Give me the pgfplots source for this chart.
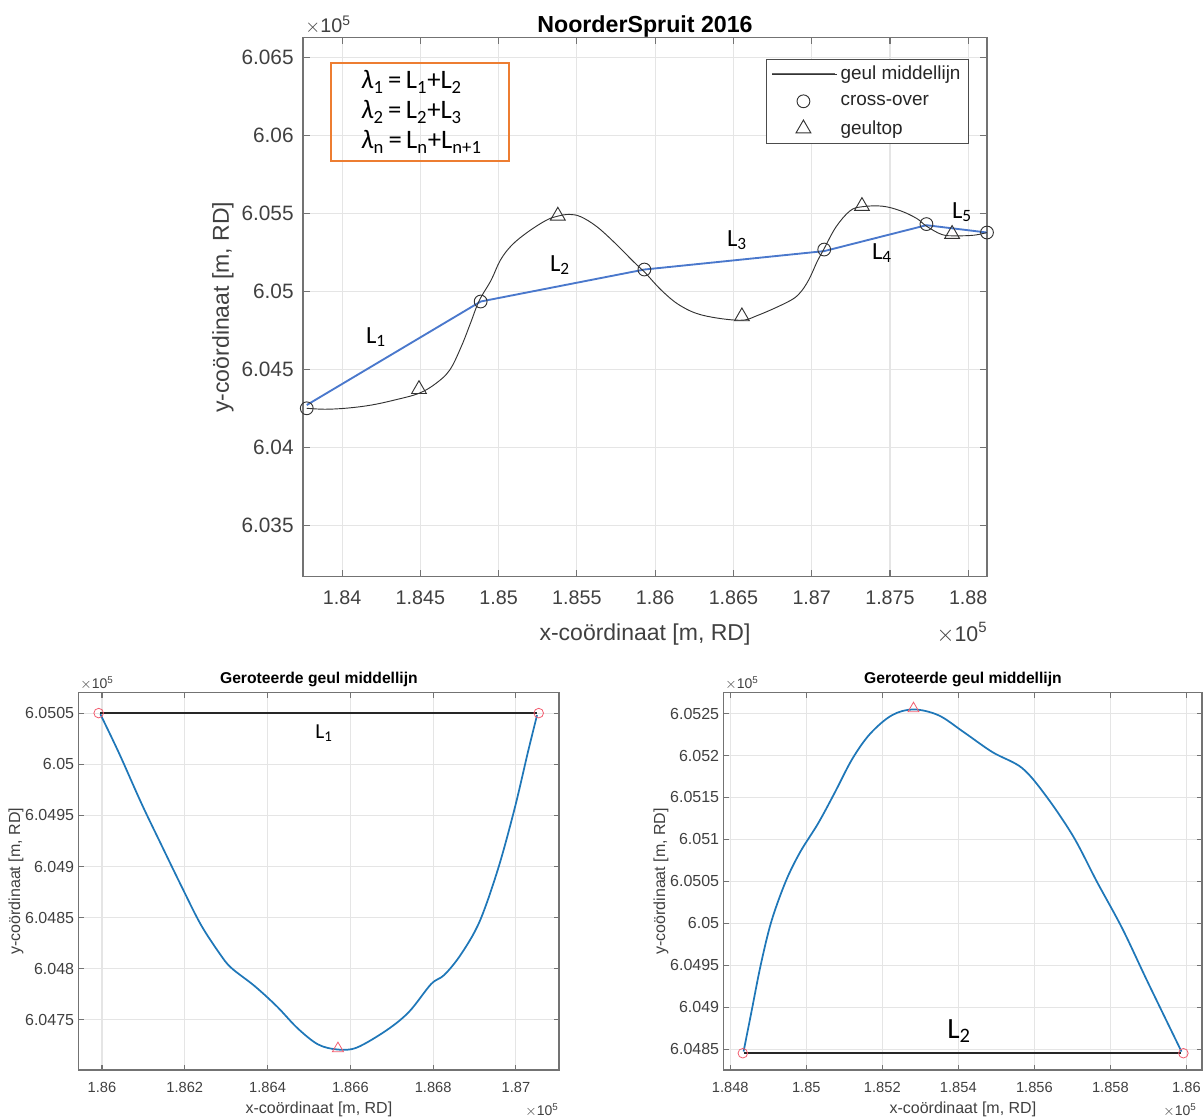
\documentclass[border=0pt]{standalone}
\usepackage{fontspec}
\setmainfont{Liberation Sans}
\newfontfamily\calib{Carlito}
\usepackage{pgfplots}
\pgfplotsset{compat=1.18}
\definecolor{mattext}{gray}{0.25}
\definecolor{matgrid}{gray}{0.9}
\definecolor{mataxis}{gray}{0.45}
\definecolor{matblue}{HTML}{1F77B8}
\definecolor{handblue}{HTML}{4A78CC}
\definecolor{boxorange}{HTML}{ED7D31}
\definecolor{markred}{HTML}{F25C6E}
\pgfplotsset{
  matlab/.style={
    scale only axis, axis on top=false,
    grid=major, grid style={matgrid,line width=0.8pt},
    axis line style={mataxis,line width=0.9pt},
    every tick/.style={mataxis,line width=0.8pt},
    tick align=inside, xtick pos=both, ytick pos=both,
    major tick length=5pt,
    scaled ticks=false, clip=false,
    tick label style={text=mattext,/pgf/number format/fixed,/pgf/number format/precision=4,/pgf/number format/assume math mode=true},
    label style={text=mattext},
  },
  bigax/.style={matlab,
    xticklabel style={font=\fontsize{14.8}{16}\selectfont,yshift=-7pt},
    yticklabel style={font=\fontsize{15.6}{17}\selectfont,xshift=-3.5pt},
    xlabel style={yshift=-7.2pt}, ylabel style={yshift=-1pt},
    label style={font=\fontsize{17.25}{19}\selectfont},
    title style={font=\fontsize{17.4}{19}\selectfont\bfseries,text=black,yshift=-9pt}},
  smallax/.style={matlab, major tick length=4pt,
    xticklabel style={font=\fontsize{11}{13}\selectfont,yshift=-6pt},
    yticklabel style={font=\fontsize{12}{14}\selectfont},
    xlabel style={yshift=0.5pt}, ylabel style={yshift=-5.5pt},
    label style={font=\fontsize{12}{14}\selectfont},
    title style={font=\fontsize{11.75}{13}\selectfont\bfseries,text=black,yshift=-5pt}},
}
\newcommand{\tenfive}[1]{\fontsize{#1}{#1}\selectfont\textcolor{mattext}{$\times$10\textsuperscript{5}}}
\begin{document}
\begin{tikzpicture}[x=0.75pt,y=0.75pt]
\path[use as bounding box] (0,0) rectangle (1203,1117);

% ---- main axis
\begin{axis}[bigax, at={(227.25pt,405.2pt)}, anchor=south west, width=513pt, height=404.25pt,
  xmin=1.8375, xmax=1.8812, ymin=6.03173, ymax=6.06626,
  xtick={1.84,1.845,1.85,1.855,1.86,1.865,1.87,1.875,1.88},
  ytick={6.035,6.04,6.045,6.05,6.055,6.06,6.065},
  title={NoorderSpruit 2016},
  xlabel={x-coördinaat [m, RD]}, ylabel={y-coördinaat [m, RD]},
  legend style={at={(0.9737,0.9605)},anchor=north east,draw=black!70,line width=0.7pt,
    font=\fontsize{14.2}{16}\selectfont, text=black!85, row sep=6pt, inner xsep=4pt, inner ysep=3pt},
  legend cell align=left,
]
\addplot[handblue,line width=1.4pt,forget plot] coordinates {
 (1.83774,6.04273) (1.84885,6.04936) (1.85931,6.05141) (1.8708,6.05259) (1.87733,6.05425) (1.8812,6.05378)};
\addplot[black!80,line width=0.7pt,smooth,tension=0.6,
  legend image code/.code={\draw[black!60,line width=1pt] (0pt,0pt) -- (47pt,0pt); \path (0pt,0pt) -- (49pt,0pt);}] coordinates {
 (1.83774,6.04252) (1.83894,6.04246) (1.84041,6.04254) (1.84188,6.04273) (1.84335,6.04305) (1.84491,6.04348)
 (1.846,6.04412) (1.84688,6.04498) (1.84761,6.04647) (1.8482,6.04797) (1.84875,6.0494) (1.84952,6.05073)
 (1.85011,6.05201) (1.85084,6.05297) (1.85187,6.05382) (1.85305,6.05457) (1.85378,6.05483) (1.85452,6.05494)
 (1.85525,6.05479) (1.85628,6.05415) (1.85746,6.05308) (1.85863,6.0519) (1.85931,6.05126) (1.8604,6.05008)
 (1.86157,6.04912) (1.86304,6.04848) (1.86539,6.04816) (1.86657,6.04848) (1.86848,6.04934) (1.86921,6.04987)
 (1.8698,6.05073) (1.87039,6.05201) (1.8708,6.05276) (1.87156,6.05415) (1.87245,6.05517) (1.87321,6.05543)
 (1.8745,6.05547) (1.87568,6.05517) (1.87671,6.05468) (1.87733,6.05419) (1.87832,6.05365) (1.87921,6.05357)
 (1.88038,6.05361) (1.8812,6.05378)};
\addlegendentry{geul middellijn}
\addplot[only marks,mark=o,mark size=4.8pt,mark options={black!80,line width=0.7pt,fill=none},
  legend image code/.code={\draw[mark=o,mark size=4.8pt,mark options={black!80,line width=0.7pt}] plot coordinates {(23.5pt,0pt)};}] coordinates {
 (1.83774,6.04252) (1.84885,6.04936) (1.85931,6.05141) (1.8708,6.05269) (1.87733,6.05432) (1.8812,6.05378)};
\addlegendentry{cross-over}
\addplot[only marks,mark=triangle,mark size=6.4pt,mark options={black!80,line width=0.7pt,fill=none},
  legend image code/.code={\draw[mark=triangle,mark size=6.4pt,mark options={black!80,line width=0.7pt}] plot coordinates {(23.5pt,0pt)};}] coordinates {
 (1.84491,6.04374) (1.85378,6.05485) (1.86554,6.0484) (1.87321,6.05547) (1.87897,6.05368)};
\addlegendentry{geultop}
\end{axis}

% ---- lower left axis
\begin{axis}[smallax, at={(59.1pt,35.25pt)}, anchor=south west, width=360.15pt, height=283pt,
  xmin=1.85944, xmax=1.87104, ymin=6.04701, ymax=6.0507,
  xtick={1.86,1.862,1.864,1.866,1.868,1.87},
  ytick={6.0475,6.048,6.0485,6.049,6.0495,6.05,6.0505},
  title={Geroteerde geul middellijn},
  xlabel={x-coördinaat [m, RD]}, ylabel={y-coördinaat [m, RD]},
]
\addplot[matblue,line width=1.3pt,smooth,tension=0.55] coordinates {
 (1.85996,6.05049) (1.86041,6.05011) (1.86095,6.04962) (1.8614,6.04924) (1.86194,6.04879) (1.86239,6.04843)
 (1.86284,6.04815) (1.86312,6.04801) (1.86369,6.04783) (1.86423,6.04763) (1.86472,6.04742) (1.86522,6.04726)
 (1.8657,6.04721) (1.86616,6.04723) (1.86688,6.0474) (1.86742,6.04758) (1.86795,6.04785) (1.86827,6.04794)
 (1.86867,6.04814) (1.86912,6.04846) (1.86957,6.04898) (1.86997,6.04957) (1.87029,6.05012) (1.87051,6.05048)};
\addplot[black!85,line width=1.6pt] coordinates {(1.85996,6.0505) (1.87051,6.0505)};
\addplot[only marks,mark=o,mark size=3.6pt,mark options={markred,line width=0.6pt,fill=none}] coordinates {(1.85992,6.0505) (1.87055,6.0505)};
\addplot[only marks,mark=triangle,mark size=4.8pt,mark options={markred,line width=0.6pt,fill=none}] coordinates {(1.8657,6.04722)};
\end{axis}

% ---- lower right axis
\begin{axis}[smallax, at={(542.85pt,35.25pt)}, anchor=south west, width=358.65pt, height=283pt,
  xmin=1.84783, xmax=1.86041, ymin=6.04825, ymax=6.05275,
  xtick={1.848,1.85,1.852,1.854,1.856,1.858,1.86},
  ytick={6.0485,6.049,6.0495,6.05,6.0505,6.051,6.0515,6.052,6.0525},
  title={Geroteerde geul middellijn},
  xlabel={x-coördinaat [m, RD]}, ylabel={y-coördinaat [m, RD]},
]
\addplot[matblue,line width=1.3pt,smooth,tension=0.55] coordinates {
 (1.84835,6.04847) (1.84856,6.04895) (1.8488,6.0495) (1.84908,6.05002) (1.84946,6.0505) (1.84984,6.05085)
 (1.85031,6.05119) (1.85074,6.05155) (1.85121,6.05196) (1.85168,6.05226) (1.85225,6.05248) (1.85282,6.05255)
 (1.85348,6.05248) (1.85414,6.05228) (1.8549,6.05204) (1.85568,6.05185) (1.85632,6.05151) (1.85703,6.05103)
 (1.85764,6.0505) (1.85831,6.04994) (1.85897,6.04931) (1.85987,6.04847)};
\addplot[black!85,line width=1.6pt] coordinates {(1.84835,6.04845) (1.85987,6.04845)};
\addplot[only marks,mark=o,mark size=3.6pt,mark options={markred,line width=0.6pt,fill=none}] coordinates {(1.84833,6.04845) (1.85992,6.04845)};
\addplot[only marks,mark=triangle,mark size=4.8pt,mark options={markred,line width=0.6pt,fill=none}] coordinates {(1.85282,6.05256)};
\end{axis}

% ---- multipliers
\node at (328,1092) {\tenfive{14.8}};
\node at (962,484) {\tenfive{16}};
\node at (97,434) {\tenfive{10.5}};
\node at (542,7) {\tenfive{10.5}};
\node at (742,434) {\tenfive{10.5}};
\node at (1180,7) {\tenfive{10.5}};

% ---- formula box
\draw[boxorange,line width=1.3pt] (331,1054) rectangle (509,956);
\node[inner sep=0pt,anchor=base west,font=\calib\fontsize{20}{22}\selectfont] at (361,1028) {\textit{λ}\textsubscript{1}\,=\,L\textsubscript{1}+L\textsubscript{2}};
\node[inner sep=0pt,anchor=base west,font=\calib\fontsize{20}{22}\selectfont] at (361,998) {\textit{λ}\textsubscript{2}\,=\,L\textsubscript{2}+L\textsubscript{3}};
\node[inner sep=0pt,anchor=base west,font=\calib\fontsize{20}{22}\selectfont] at (361,968) {\textit{λ}\textsubscript{n}\,=\,L\textsubscript{n}+L\textsubscript{n+1}};

% ---- L labels
\foreach \xx/\yy/\nn in {376/780/1,560/852/2,737/877/3,882/864/4,962/905/5}
  \node[font=\calib\fontsize{18.5}{20}\selectfont] at (\xx,\yy) {L\textsubscript{\nn}};
\node[font=\calib\fontsize{16}{18}\selectfont] at (324,384) {L\textsubscript{1}};
\node[font=\calib\fontsize{22}{24}\selectfont] at (959,86) {L\textsubscript{2}};
\end{tikzpicture}
\end{document}
